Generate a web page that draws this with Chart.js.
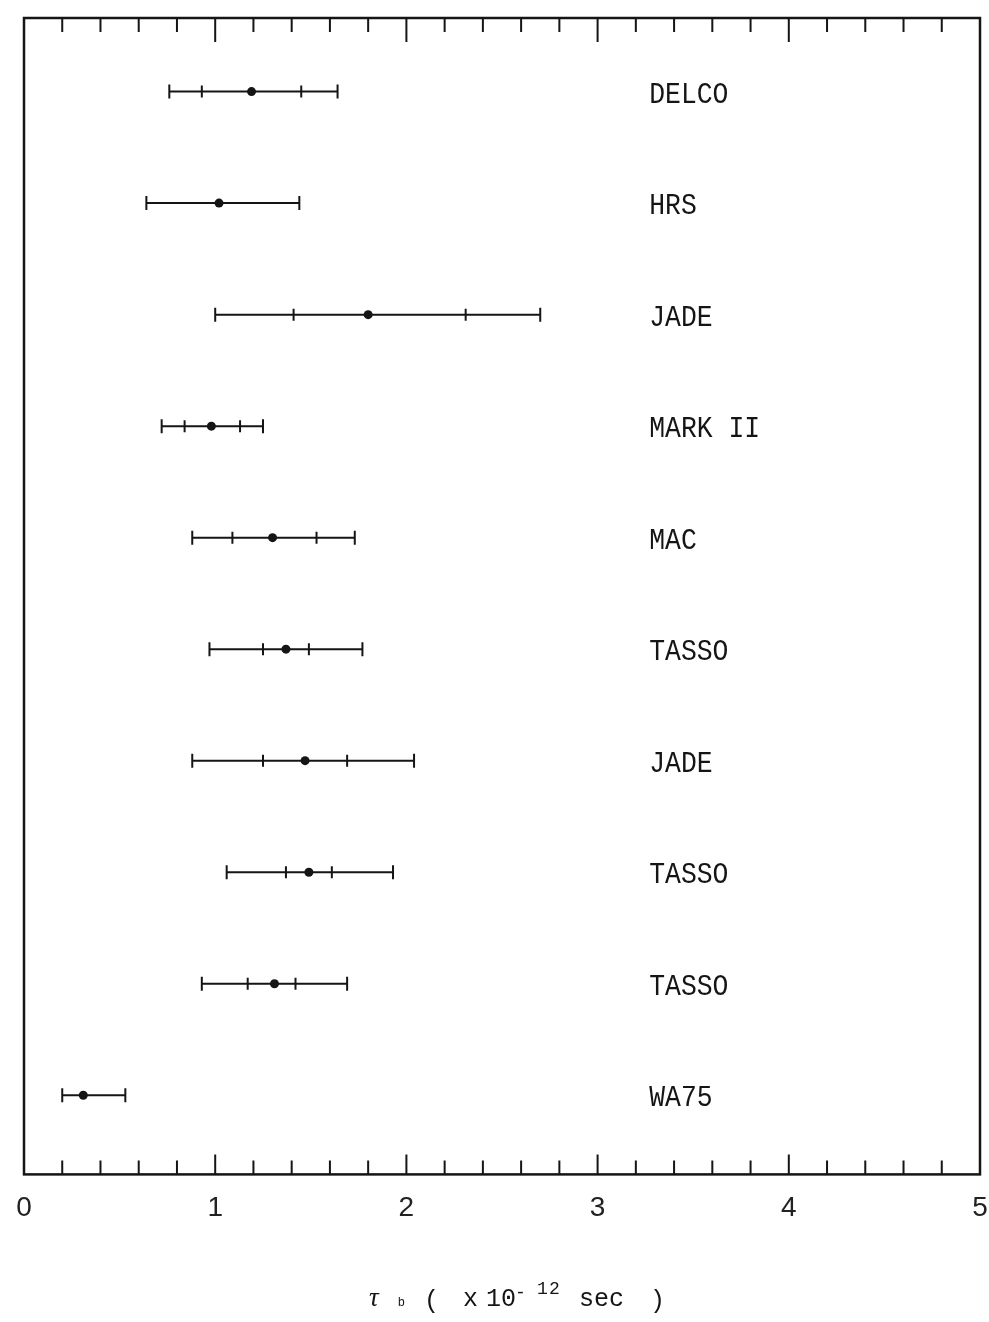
<!DOCTYPE html>
<html>
<head>
<meta charset="utf-8">
<script src="https://cdn.jsdelivr.net/npm/chart.js@4.4.0/dist/chart.umd.min.js"></script>
<style>
  html, body { margin: 0; padding: 0; background: #fff; }
</style>
</head>
<body>
<canvas id="lifetime-chart" width="989" height="1322"></canvas>
<script>
// b lifetime measurements, tau_b in units of 1e-12 s
let experiments = ['DELCO', 'HRS', 'JADE', 'MARK II', 'MAC', 'TASSO', 'JADE', 'TASSO', 'TASSO', 'WA75'];
let tau       = [1.19, 1.02, 1.80, 0.98, 1.30, 1.37, 1.47, 1.49, 1.31, 0.31];
let statLow   = [0.93, null, 1.41, 0.84, 1.09, 1.25, 1.25, 1.37, 1.17, null];
let statHigh  = [1.45, null, 2.31, 1.13, 1.53, 1.49, 1.69, 1.61, 1.42, null];
let totalLow  = [0.76, 0.64, 1.00, 0.72, 0.88, 0.97, 0.88, 1.06, 0.93, 0.20];
let totalHigh = [1.64, 1.44, 2.70, 1.25, 1.73, 1.77, 2.04, 1.93, 1.69, 0.53];
let xTicks = [0, 1, 2, 3, 4, 5];

const ink = '#151515';

// one horizontal line per measurement
let barLines = experiments.map((name, i) => ({
    type: 'line',
    data: [{x: totalLow[i], y: i}, {x: totalHigh[i], y: i}],
    borderColor: ink,
    borderWidth: 2,
    pointRadius: 0,
    fill: false
}));

let dots = tau.map((v, i) => ({x: v, y: i}));
let caps = [];
totalLow.forEach((v, i) => caps.push({x: v, y: i}));
totalHigh.forEach((v, i) => caps.push({x: v, y: i}));
let inner = [];
statLow.forEach((v, i) => { if (v !== null) inner.push({x: v, y: i}); });
statHigh.forEach((v, i) => { if (v !== null) inner.push({x: v, y: i}); });

// frame, inward tick marks, experiment names and axis title
const decorations = {
    id: 'decorations',
    afterDraw(chart) {
        const ctx = chart.ctx;
        const area = chart.chartArea;
        const xs = chart.scales.x;
        const ys = chart.scales.y;
        ctx.save();
        ctx.strokeStyle = ink;
        ctx.lineWidth = 2.5;
        ctx.strokeRect(area.left, area.top, area.right - area.left, area.bottom - area.top);

        ctx.lineWidth = 2;
        for (let k = 1; k < 25; k++) {
            const v = k * 0.2;
            const px = xs.getPixelForValue(v);
            const major = k % 5 === 0;
            ctx.beginPath();
            ctx.moveTo(px, area.top);
            ctx.lineTo(px, area.top + (major ? 24 : 14));
            ctx.moveTo(px, area.bottom);
            ctx.lineTo(px, area.bottom - (major ? 20 : 14));
            ctx.stroke();
        }

        // names of the experiments
        ctx.fillStyle = ink;
        ctx.textBaseline = 'middle';
        ctx.font = '30px "Liberation Mono"';
        const nameX = xs.getPixelForValue(3.27);
        experiments.forEach((name, i) => {
            ctx.save();
            ctx.translate(nameX, ys.getPixelForValue(i) + 3);
            ctx.scale(0.88, 1);
            ctx.fillText(name, 0, 0);
            ctx.restore();
        });

        // tau_b ( x 10^-12 sec )
        ctx.textBaseline = 'alphabetic';
        const base = area.bottom + 132;
        ctx.font = 'italic 27px "Liberation Serif"';
        ctx.fillText('\u03C4', 369, base);
        ctx.font = '12px "Liberation Sans"';
        ctx.fillText('b', 398, base);
        ctx.font = '25px "Liberation Mono"';
        ctx.fillText('(', 424, base + 2);
        ctx.fillText('x', 463, base);
        ctx.fillText('10', 486, base);
        ctx.font = '18px "Liberation Mono"';
        ctx.fillText('-', 515, base - 8);
        ctx.fillText('1', 537, base - 12);
        ctx.fillText('2', 549, base - 12);
        ctx.font = '25px "Liberation Mono"';
        ctx.fillText('sec', 579, base);
        ctx.fillText(')', 650, base + 2);
        ctx.restore();
    }
};

new Chart(document.getElementById('lifetime-chart'), {
    type: 'scatter',
    data: {
        datasets: [
            {
                data: dots,
                pointRadius: 4.5,
                pointBackgroundColor: ink,
                pointBorderWidth: 0
            },
            {
                data: caps,
                pointStyle: 'line',
                rotation: 90,
                pointRadius: 7,
                pointBorderColor: ink,
                pointBorderWidth: 2
            },
            {
                data: inner,
                pointStyle: 'line',
                rotation: 90,
                pointRadius: 6,
                pointBorderColor: ink,
                pointBorderWidth: 2
            }
        ].concat(barLines)
    },
    plugins: [decorations],
    options: {
        responsive: false,
        animation: false,
        events: [],
        layout: {padding: {left: 24, right: 5, top: 18, bottom: 80}},
        plugins: {
            legend: {display: false},
            tooltip: {enabled: false}
        },
        scales: {
            x: {
                type: 'linear',
                min: 0,
                max: 5,
                afterFit(scale) {
                    scale.paddingLeft = 0;
                    scale.paddingRight = 0;
                },
                afterBuildTicks(scale) {
                    scale.ticks = xTicks.map(v => ({value: v}));
                },
                grid: {display: false, drawTicks: false},
                border: {display: false},
                ticks: {
                    padding: 17,
                    color: '#222',
                    font: {family: 'Liberation Sans', size: 28}
                }
            },
            y: {
                type: 'linear',
                display: false,
                reverse: true,
                min: -0.66,
                max: 9.71
            }
        }
    }
});
</script>
</body>
</html>
